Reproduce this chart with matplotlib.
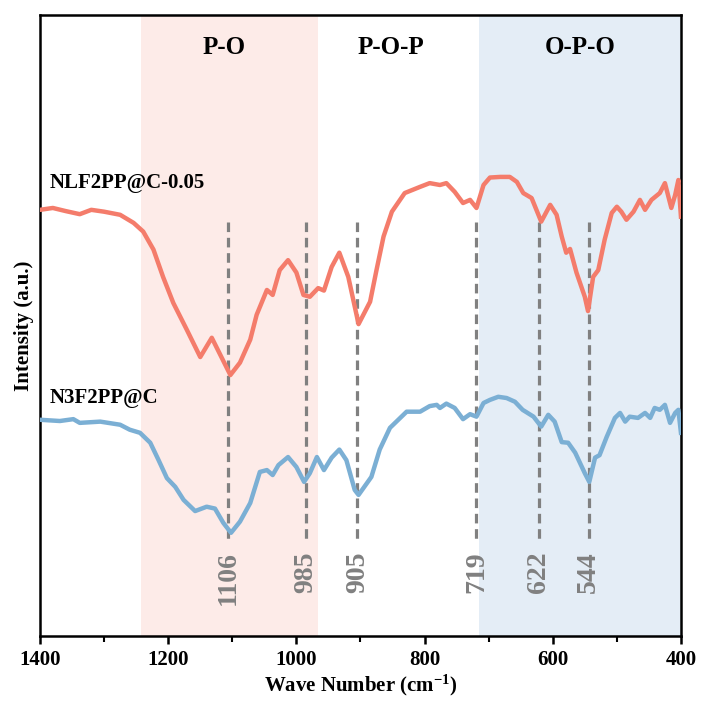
import numpy as np
import matplotlib
matplotlib.use('Agg')
import matplotlib.pyplot as plt

# Wavenumber (cm-1) and intensity (a.u.)
wn_nlf = [1400, 1380, 1360, 1338, 1320, 1300, 1275, 1254, 1239, 1223, 1208, 1192,
          1171, 1150, 1132, 1117, 1103, 1088, 1072, 1062, 1046, 1037, 1026, 1013,
          1000, 989, 979, 966, 957, 945, 933, 919, 903, 885, 875, 864, 851, 831,
          807, 792, 776, 766, 753, 740, 729, 719, 708, 698, 682, 667, 656, 646,
          633, 618, 604, 594, 586, 579, 573, 563, 550, 545, 537, 529, 519, 508,
          500, 493, 485, 474, 464, 456, 446, 433, 425, 415, 409, 404, 400]
int_nlf = [68.6, 68.9, 68.4, 67.9, 68.6, 68.3, 67.8, 66.5, 65.1, 62.2, 57.8, 53.6,
           49.3, 44.9, 48.0, 44.9, 42.0, 44.0, 47.7, 51.7, 55.7, 54.9, 58.9, 60.5,
           58.5, 54.9, 54.6, 56.0, 55.6, 59.4, 61.7, 57.8, 50.2, 53.8, 58.9, 64.3,
           68.3, 71.3, 72.3, 72.9, 72.6, 72.9, 71.5, 69.7, 70.2, 68.9, 72.6, 73.8,
           73.9, 73.9, 73.1, 71.3, 70.5, 66.7, 69.4, 67.8, 64.3, 61.7, 62.3, 58.5,
           54.6, 52.3, 57.8, 58.9, 63.8, 68.1, 69.1, 68.3, 67.0, 68.3, 70.2, 68.6,
           70.2, 71.3, 72.9, 68.9, 71.0, 73.4, 67.5]

wn_n3 = [1400, 1369, 1348, 1338, 1306, 1275, 1260, 1244, 1228, 1215, 1202, 1189,
         1176, 1158, 1140, 1127, 1114, 1102, 1088, 1072, 1057, 1046, 1037, 1028,
         1013, 1000, 988, 979, 968, 957, 945, 933, 922, 909, 903, 883, 870, 854,
         828, 807, 792, 781, 776, 766, 753, 740, 729, 719, 708, 698, 685, 672,
         659, 647, 630, 618, 607, 597, 586, 576, 565, 550, 543, 534, 527, 516,
         503, 495, 487, 480, 467, 456, 448, 441, 433, 425, 417, 409, 404, 400]
int_n3 = [34.8, 34.6, 34.9, 34.3, 34.5, 34.0, 33.2, 32.7, 31.1, 28.3, 25.4, 24.0,
          21.9, 20.1, 20.8, 20.5, 18.2, 16.6, 18.4, 21.4, 26.4, 26.7, 25.9, 27.5,
          28.8, 27.2, 24.8, 26.2, 28.8, 26.7, 28.7, 30.0, 28.3, 23.5, 22.7, 25.6,
          30.0, 33.5, 36.1, 36.1, 37.0, 37.2, 36.7, 37.4, 36.7, 34.9, 35.7, 35.3,
          37.5, 38.0, 38.5, 38.3, 37.7, 36.4, 35.3, 33.7, 35.6, 34.5, 31.2, 31.1,
          29.5, 26.2, 24.8, 28.7, 29.1, 32.0, 35.1, 35.9, 34.5, 35.3, 35.1, 35.9,
          35.1, 36.7, 36.4, 37.2, 34.3, 35.9, 36.4, 32.7]

peaks = [1106, 985, 905, 719, 622, 544]
peak_labels = ['1106', '985', '905', '719', '622', '544']

# shaded band regions and their labels
bands = [(1243, 967), (715, 400)]
band_colors = ['#fdebe8', '#e4edf6']
group_names = ['P-O', 'P-O-P', 'O-P-O']
group_pos = [1112, 853, 557]

sample_names = ['NLF2PP@C-0.05', 'N3F2PP@C']

RED = '#f47c6b'
BLUE = '#7bafd4'
GREY = '#808080'

plt.rcParams['font.family'] = ['Liberation Serif', 'DejaVu Serif']
plt.rcParams['font.weight'] = 'bold'
plt.rcParams['mathtext.fontset'] = 'custom'
plt.rcParams['mathtext.rm'] = 'Liberation Serif:bold'
plt.rcParams['mathtext.it'] = 'Liberation Serif:bold'
plt.rcParams['mathtext.bf'] = 'Liberation Serif:bold'


def plot_ftir():
    fig = plt.figure(figsize=(7.02, 7.05), dpi=100)
    ax = fig.add_axes([0.057, 0.098, 0.913, 0.881])

    for (a, b), c in zip(bands, band_colors):
        ax.axvspan(a, b, color=c, lw=0, zorder=0)

    # dashed peak markers + rotated labels
    for p, lab in zip(peaks, peak_labels):
        ax.plot([p, p], [66.7, 15.5], ls=(0, (3, 1.8)), lw=2.3, color=GREY, zorder=1)
        ax.text(p, 13.6, lab, rotation=90, ha='center', va='top',
                fontsize=20, color=GREY, fontweight='bold')

    ax.plot(wn_nlf, int_nlf, color=RED, lw=3.2, solid_joinstyle='round', zorder=3)
    ax.plot(wn_n3, int_n3, color=BLUE, lw=3.2, solid_joinstyle='round', zorder=3)

    ax.text(1385, 72.9, sample_names[0], ha='left', va='center', fontsize=15, fontweight='bold')
    ax.text(1385, 38.3, sample_names[1], ha='left', va='center', fontsize=15, fontweight='bold')

    for name, x in zip(group_names, group_pos):
        ax.text(x, 94.8, name, ha='center', va='center', fontsize=18, fontweight='bold')

    ax.set_xlim(1400, 400)
    ax.set_ylim(0, 100)
    ax.set_xticks([1400, 1200, 1000, 800, 600, 400])
    ax.set_xticks([1300, 1100, 900, 700, 500], minor=True)
    ax.set_yticks([])
    ax.tick_params(axis='x', which='major', direction='out', length=6, width=1.8,
                   labelsize=15, pad=4)
    ax.tick_params(axis='x', which='minor', direction='out', length=4, width=1.5)
    for lbl in ax.get_xticklabels():
        lbl.set_fontweight('bold')
    for s in ax.spines.values():
        s.set_linewidth(1.8)

    ax.set_xlabel('Wave Number (cm$^{-1}$)', fontsize=15, fontweight='bold', labelpad=2)
    ax.set_ylabel('Intensity (a.u.)', fontsize=15, fontweight='bold', labelpad=4)

    fig.savefig('out.png', dpi=100)
    plt.close(fig)


if __name__ == '__main__':
    plot_ftir()
